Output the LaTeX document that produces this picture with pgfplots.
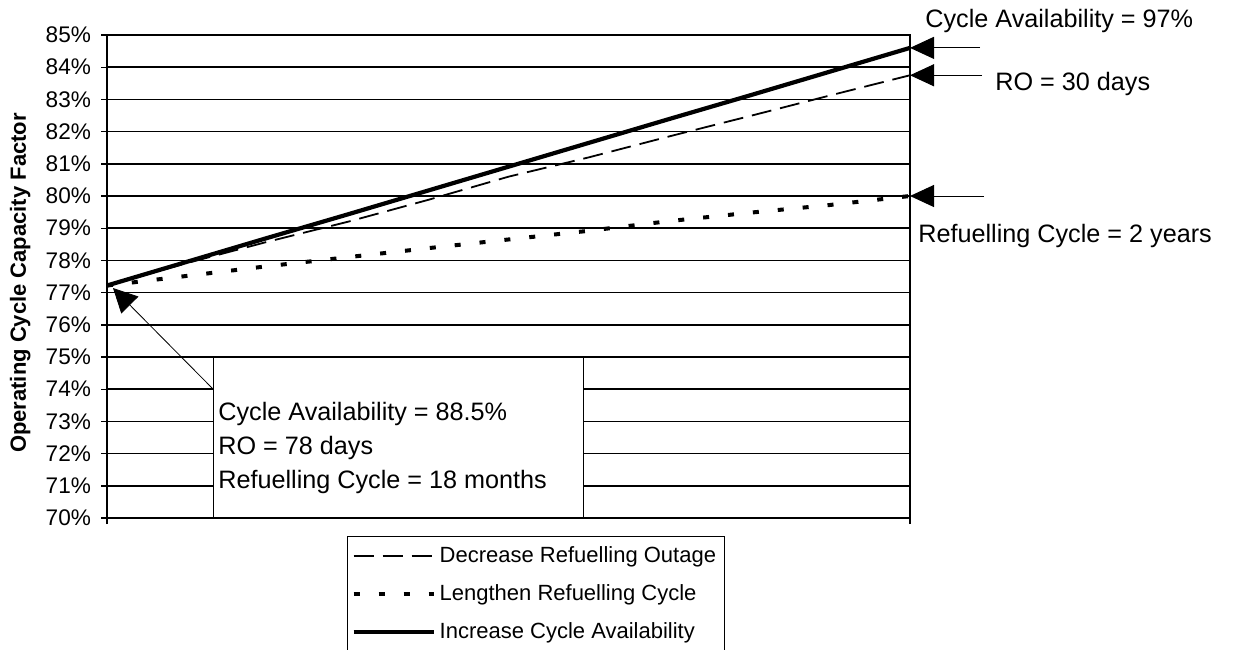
\documentclass[border=0pt]{standalone}
\usepackage{pgfplots}
\pgfplotsset{compat=1.18}
\usepackage{fontspec}
\setmainfont{Liberation Sans}
\usetikzlibrary{arrows.meta}

\begin{document}
\begin{tikzpicture}
\begin{axis}[
  at={(53.5pt,65.5pt)}, anchor=south west,
  scale only axis, width=401.5pt, height=241.5pt,
  xmin=0, xmax=1, ymin=70, ymax=85,
  xtick={0,1}, xticklabels={,},
  ytick={70,71,...,85},
  yticklabel={\pgfmathprintnumber{\tick}\%},
  /pgf/number format/assume math mode=true,
  tick align=outside, tick pos=left,
  major tick length=3pt,
  major tick style={black, line width=0.7pt},
  axis line style={black, line width=0.9pt},
  ymajorgrids, grid style={black, line width=0.75pt},
  ticklabel style={font=\fontsize{11.3}{13}\selectfont},
  yticklabel style={xshift=-1.5pt},
  ylabel={Operating Cycle Capacity Factor},
  every axis y label/.style={at={(rel axis cs:-0.108,0.4865)}, rotate=90, anchor=center},
  ylabel style={font=\bfseries\fontsize{11}{13}\selectfont},
  clip=false,
  legend style={at={(rel axis cs:0.299,-0.0373)}, anchor=north west, draw=black,
    font=\fontsize{11}{13}\selectfont, row sep=5.5pt, inner xsep=2pt, inner ysep=3pt},
  legend cell align=left,
  legend image code/.code={\draw[#1] (0pt,0pt) -- (40pt,0pt);},
]
\addplot[black, line width=0.9pt, dash pattern=on 10pt off 4.5pt] coordinates {
  (0,77.22) (0.1,77.92) (0.2,78.58) (0.3,79.20) (0.4,79.88) (0.5,80.60)
  (0.6,81.20) (0.7,81.85) (0.8,82.48) (0.9,83.12) (1,83.75)};
\addlegendentry{Decrease Refuelling Outage}
\addplot[black, line width=2pt, dash pattern=on 3pt off 9.5pt] coordinates {
  (0,77.22) (0.1,77.52) (0.2,77.82) (0.3,78.10) (0.4,78.38) (0.5,78.65)
  (0.6,78.92) (0.7,79.22) (0.8,79.48) (0.9,79.72) (1,80.00)};
\addlegendentry{Lengthen Refuelling Cycle}
\addplot[black, line width=2.1pt] coordinates {
  (0,77.22) (0.1,77.96) (0.2,78.70) (0.3,79.43) (0.4,80.17) (0.5,80.91)
  (0.6,81.65) (0.7,82.39) (0.8,83.12) (0.9,83.86) (1,84.60)};
\addlegendentry{Increase Cycle Availability}
\draw[black, line width=0.5pt, -{Triangle[length=12pt,width=11pt]}] ([xshift=35pt]axis cs:1,84.6) -- (axis cs:1,84.6);
\draw[black, line width=0.5pt, -{Triangle[length=12pt,width=11pt]}] ([xshift=36pt]axis cs:1,83.75) -- (axis cs:1,83.75);
\draw[black, line width=0.5pt, -{Triangle[length=12pt,width=11pt]}] ([xshift=37pt]axis cs:1,80.0) -- (axis cs:1,80.0);
\end{axis}
\draw[fill=white, line width=0.5pt] (106.5pt,65.8pt) rectangle (291.5pt,146pt);
\draw[black, line width=0.4pt, -{Triangle[length=12pt,width=12pt]}] (106.5pt,130pt) -- (56.5pt,180.5pt);
\begin{scope}[every node/.style={anchor=base west, inner sep=0pt, font=\fontsize{12.6}{15}\selectfont}]
\node at (109pt,114.5pt) {Cycle Availability = 88.5\%};
\node at (109pt,97.5pt) {RO = 78 days};
\node at (109pt,80.5pt) {Refuelling Cycle = 18 months};
\node at (462.5pt,310.5pt) {Cycle Availability = 97\%};
\node at (497.5pt,279pt) {RO = 30 days};
\node at (459pt,203.5pt) {Refuelling Cycle = 2 years};
\end{scope}
\pgfresetboundingbox
\path[use as bounding box] (0,0) rectangle (626pt,324.5pt);
\end{tikzpicture}
\end{document}
